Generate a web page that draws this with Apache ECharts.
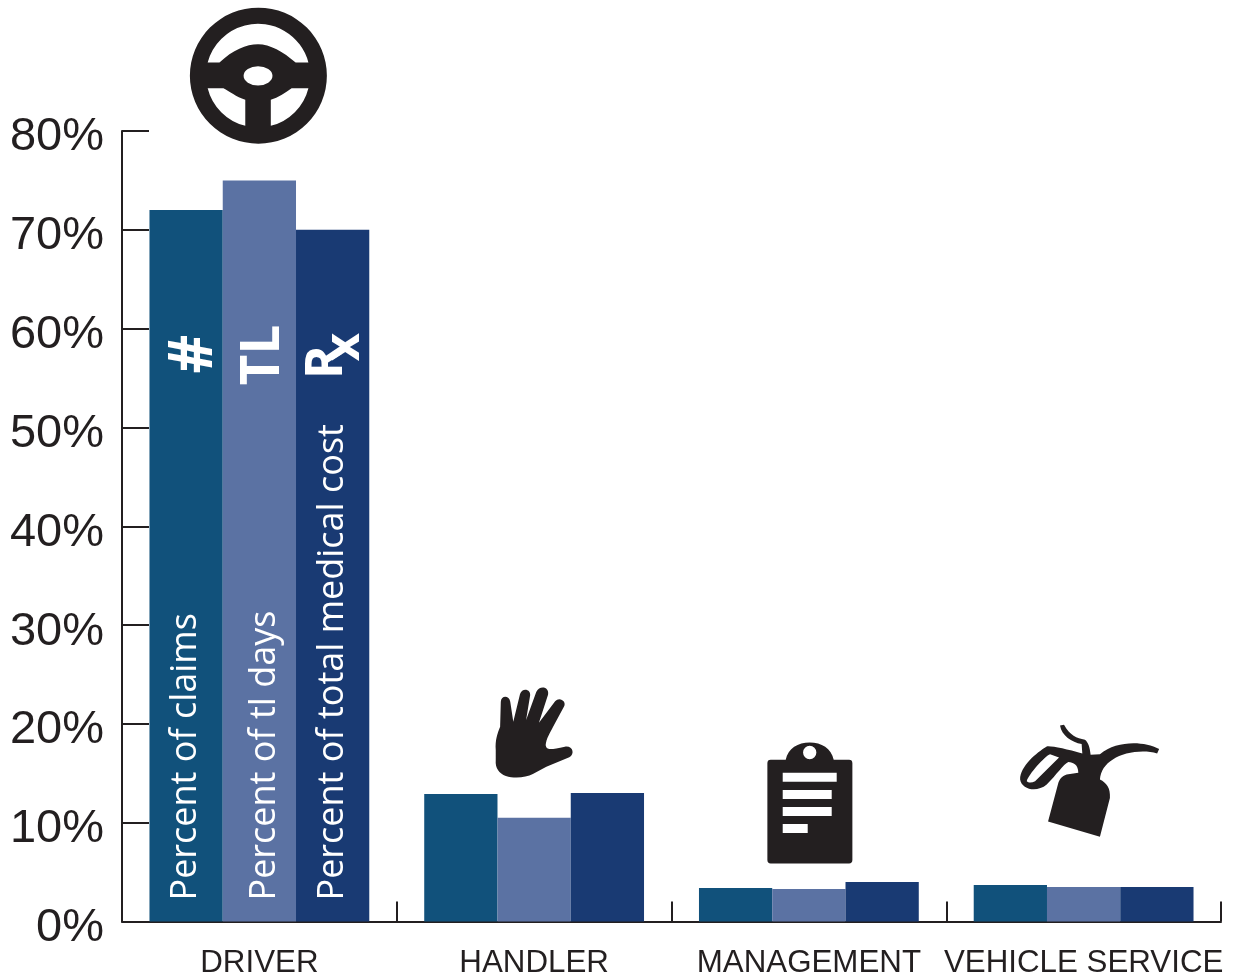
<!DOCTYPE html>
<html>
<head>
<meta charset="utf-8">
<style>html,body{margin:0;padding:0;background:#fff}#c{width:1233px;height:976px}</style>
<script src="https://cdn.jsdelivr.net/npm/echarts@6/dist/echarts.min.js"></script>
</head>
<body>
<div id="c"></div>
<script>
const categories = ['DRIVER', 'HANDLER', 'MANAGEMENT', 'VEHICLE SERVICE'];
const percentOfClaims = [72, 12.9, 3.4, 3.7];
const percentOfTlDays = [75, 10.5, 3.3, 3.5];
const percentOfTotalMedicalCost = [70, 13, 4, 3.5];
const seriesNames = ['Percent of claims', 'Percent of tl days', 'Percent of total medical cost'];

const INK = '#231f20';
const COLORS = ['#11517b', '#5b72a3', '#193a73'];
const LABEL_OFFSETS = [[0, 0], [0, 5], [0, 0]];

const wheelPath = 'M122 227.5A204 204 0 1 1 530 227.5A204 204 0 1 1 122 227.5Z' +
  'M175 188L210 188C250 150 290 133 325 133C360 133 400 155 437 188L475 188A155 155 0 0 0 175 188Z' +
  'M175 265A155 155 0 0 0 287 378L287 300C260 290 240 275 222 265Z' +
  'M363 378A155 155 0 0 0 475 265L425 265C405 280 385 293 363 300Z' +
  'M282 228A43 29 0 1 0 368 228A43 29 0 1 0 282 228Z';
const handPath = 'M290 240C288 210 295 190 303 170L305 95C306 75 330 75 333 95L342 155L362 72C368 52 394 56 392 76L380 150L410 66C420 44 450 50 445 74L418 158L466 94C478 78 502 94 492 110L460 170C450 190 440 205 438 225C440 240 450 240 495 230C518 226 526 252 508 262L440 290L400 312C380 323 345 326 320 318C300 310 288 295 290 270Z';
const clipPath = 'M1113 270L1158 270C1165 235 1195 218 1230 218C1265 218 1295 235 1302 270L1348 270Q1358 270 1358 280L1358 570Q1358 580 1348 580L1113 580Q1103 580 1103 570L1103 280Q1103 270 1113 270Z' +
  'M1210 248A20 20 0 1 0 1250 248A20 20 0 1 0 1210 248Z' +
  'M1149 309L1149 336L1311 336L1311 309Z' +
  'M1149 360L1149 387L1296 387L1296 360Z' +
  'M1149 411L1149 438L1296 438L1296 411Z' +
  'M1149 462L1149 489L1224 489L1224 462Z';
const canPath = 'M594 365L750 410L780 295C782 265 770 250 750 240C752 215 765 195 790 180C820 160 880 150 922 163L928 150C880 125 800 125 750 165L722 167C720 145 715 130 705 122C680 118 660 110 642 78L630 80C635 110 665 130 695 135L697 163C650 150 605 140 590 142C560 160 510 200 510 240C515 270 560 280 590 255C620 225 640 195 655 188C670 190 685 195 685 220L650 225C635 230 628 240 625 250Z' +
  'M530 245C535 225 585 170 600 165L627 175L555 245C545 250 535 250 530 245Z';

const iconSpec = [
  { path: wheelPath, cat: 0, anchor: 85.6, size: [137, 136], offset: [-1, 0] },
  { path: handPath, cat: 1, anchor: 19.13, size: [77, 90], offset: [0, 0] },
  { path: clipPath, cat: 2, anchor: 12.0, size: [85, 121], offset: [1, 0] },
  { path: canPath, cat: 3, anchor: 14.24, size: [139, 112], offset: [6, 0] }
];

const barValues = [percentOfClaims, percentOfTlDays, percentOfTotalMedicalCost];
const bars = seriesNames.map((name, i) => ({
  type: 'bar',
  name,
  barGap: 0,
  barCategoryGap: '20%',
  itemStyle: { color: COLORS[i] },
  data: barValues[i].map((v, k) => k === 0 ? {
    value: v,
    label: {
      show: true,
      formatter: name,
      position: 'insideBottom',
      rotate: 90,
      distance: 21,
      offset: LABEL_OFFSETS[i],
      align: 'left',
      verticalAlign: 'middle',
      color: '#fff',
      fontFamily: 'Open Sans',
      fontSize: 36
    }
  } : v)
}));

const icons = iconSpec.map(s => ({
  type: 'scatter',
  clip: false,
  silent: true,
  symbol: 'path://' + s.path,
  symbolSize: s.size,
  symbolOffset: s.offset,
  symbolKeepAspect: false,
  itemStyle: { color: INK, opacity: 1 },
  data: [[s.cat, s.anchor]]
}));

function glyph(text, x, y, size) {
  return {
    type: 'text', x, y, z: 100, rotation: Math.PI / 2, silent: true,
    style: { text, fill: '#fff', font: 'bold ' + size + 'px "Open Sans"', textAlign: 'center', textVerticalAlign: 'middle' }
  };
}

const chart = echarts.init(document.getElementById('c'), null, { renderer: 'canvas' });
chart.setOption({
  animation: false,
  backgroundColor: '#fff',
  tooltip: { show: false },
  legend: { show: false },
  grid: { left: 122, top: 131, width: 1099, height: 790.5, outerBoundsMode: 'none' },
  xAxis: {
    type: 'category',
    data: categories,
    axisLine: { show: true, lineStyle: { color: INK, width: 2 } },
    axisTick: { show: true, inside: true, length: 20, alignWithLabel: false, lineStyle: { color: INK, width: 2 } },
    axisLabel: { show: true, interval: 0, color: INK, fontFamily: 'Liberation Sans', fontSize: 31.3, margin: 26 },
    splitLine: { show: false }
  },
  yAxis: {
    type: 'value',
    min: 0,
    max: 80,
    interval: 10,
    axisLine: { show: true, lineStyle: { color: INK, width: 2 } },
    axisTick: { show: true, inside: true, length: 27, lineStyle: { color: INK, width: 2 } },
    axisLabel: { color: INK, fontFamily: 'Liberation Sans', fontSize: 47, margin: 18, formatter: '{value}%', verticalAlign: 'top', lineHeight: 13 },
    splitLine: { show: false }
  },
  series: bars.concat(icons),
  graphic: { elements: [
    glyph('#', 194.5, 354, 60),
    glyph('TL', 264, 355, 53),
    glyph('R', 327, 362, 52),
    glyph('x', 345, 347, 49)
  ] }
});
</script>
</body>
</html>
